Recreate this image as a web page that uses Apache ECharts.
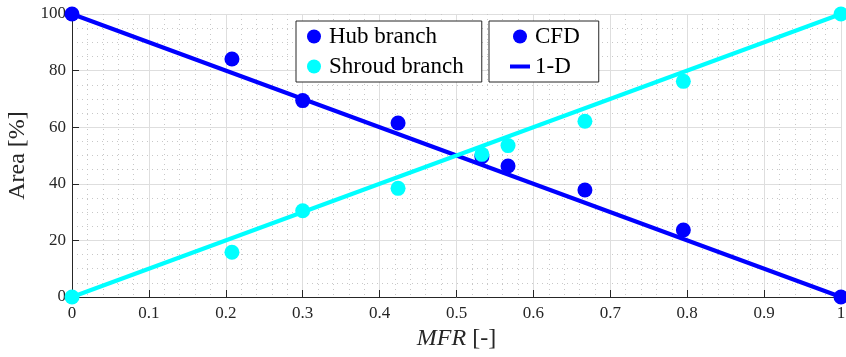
<!DOCTYPE html>
<html>
<head>
<meta charset="utf-8">
<script src="https://cdn.jsdelivr.net/npm/echarts@6/dist/echarts.min.js"></script>
<style>
  html, body { margin: 0; padding: 0; background: #fff; }
  #chart { width: 846px; height: 357px; }
</style>
</head>
<body>
<div id="chart"></div>
<script>
// CFD samples
const mfr = [0, 0.208, 0.3, 0.424, 0.533, 0.567, 0.667, 0.795, 1];
const hubCfd = [100, 84.1, 69.4, 61.5, 49.6, 46.3, 37.8, 23.7, 0];
const shroudCfd = [0, 15.8, 30.5, 38.4, 50.4, 53.5, 62.1, 76.2, 100];
// 1-D model
const mfr1D = [0, 1];
const hub1D = [100, 0];
const shroud1D = [0, 100];

const BLUE = '#0000ff';
const CYAN = '#00ffff';
const FONT = 'Liberation Serif';

const pairs = (xs, ys) => xs.map((x, i) => [x, ys[i]]);

const myChart = echarts.init(document.getElementById('chart'), null, {renderer: 'canvas'});

const option = {
  backgroundColor: '#fff',
  animation: false,
  grid: {left: 72, right: 5, top: 14, bottom: 60, outerBoundsMode: 'none', containLabel: false},
  xAxis: {
    type: 'value',
    min: 0, max: 1, interval: 0.1,
    name: '{i|MFR} [-]',
    nameLocation: 'middle',
    nameGap: 30,
    nameTextStyle: {
      fontFamily: FONT, fontSize: 24, color: '#262626',
      rich: {i: {fontFamily: FONT, fontSize: 24, fontStyle: 'italic', color: '#262626'}}
    },
    axisLine: {lineStyle: {color: '#262626', width: 1}},
    axisTick: {inside: true, length: 7, lineStyle: {color: '#262626'}},
    axisLabel: {fontFamily: FONT, fontSize: 17, color: '#262626', margin: 8},
    splitLine: {show: true, lineStyle: {color: '#dedede', width: 1}},
    minorTick: {show: false, splitNumber: 5},
    minorSplitLine: {show: true, lineStyle: {color: '#c8c8c8', width: 1, type: [1, 4]}}
  },
  yAxis: {
    type: 'value',
    min: 0, max: 100, interval: 20,
    name: 'Area [%]',
    nameLocation: 'middle',
    nameGap: 35,
    nameRotate: 90,
    nameTextStyle: {fontFamily: FONT, fontSize: 24, color: '#262626'},
    axisLine: {show: true, lineStyle: {color: '#262626', width: 1}},
    axisTick: {show: true, inside: true, length: 7, lineStyle: {color: '#262626'}},
    axisLabel: {fontFamily: FONT, fontSize: 17, color: '#262626', margin: 6},
    splitLine: {show: true, lineStyle: {color: '#dedede', width: 1}},
    minorTick: {show: false, splitNumber: 4},
    minorSplitLine: {show: true, lineStyle: {color: '#c8c8c8', width: 1, type: [1, 4]}}
  },
  legend: [
    {
      data: ['Hub branch', 'Shroud branch'],
      orient: 'vertical',
      left: 296, top: 21,
      padding: [4, 18, 4, 11],
      itemGap: 7,
      itemWidth: 14, itemHeight: 14,
      borderColor: '#262626', borderWidth: 1,
      backgroundColor: '#fff',
      selectedMode: false,
      textStyle: {fontFamily: FONT, fontSize: 23, color: '#000', padding: [0, 0, 0, 3]}
    },
    {
      data: ['CFD', '1-D'],
      orient: 'vertical',
      left: 489, top: 21,
      padding: [4, 19, 4, 21],
      itemGap: 7,
      itemWidth: 20, itemHeight: 14,
      symbolKeepAspect: true,
      borderColor: '#262626', borderWidth: 1,
      backgroundColor: '#fff',
      selectedMode: false,
      textStyle: {fontFamily: FONT, fontSize: 23, color: '#000'}
    }
  ],
  series: [
    {
      name: 'Hub 1-D', type: 'line',
      data: pairs(mfr1D, hub1D),
      symbol: 'none', clip: false, z: 2,
      lineStyle: {color: BLUE, width: 4}
    },
    {
      name: 'Shroud 1-D', type: 'line',
      data: pairs(mfr1D, shroud1D),
      symbol: 'none', clip: false, z: 3,
      lineStyle: {color: CYAN, width: 4}
    },
    {
      name: 'Hub branch', type: 'scatter',
      data: pairs(mfr, hubCfd),
      symbol: 'circle', symbolSize: 15, clip: false, z: 4,
      itemStyle: {color: BLUE, opacity: 1}
    },
    {
      name: 'Shroud branch', type: 'scatter',
      data: pairs(mfr, shroudCfd),
      symbol: 'circle', symbolSize: 15, clip: false, z: 5,
      itemStyle: {color: CYAN, opacity: 1}
    },
    // legend-only entries
    {
      name: 'CFD', type: 'scatter', data: [],
      symbol: 'circle', symbolSize: 15,
      itemStyle: {color: BLUE, opacity: 1}
    },
    {
      name: '1-D', type: 'scatter', data: [],
      symbol: 'path://M0,0 H20 V4 H0 Z', symbolKeepAspect: true,
      itemStyle: {color: BLUE, opacity: 1}
    }
  ]
};

myChart.setOption(option);
</script>
</body>
</html>
